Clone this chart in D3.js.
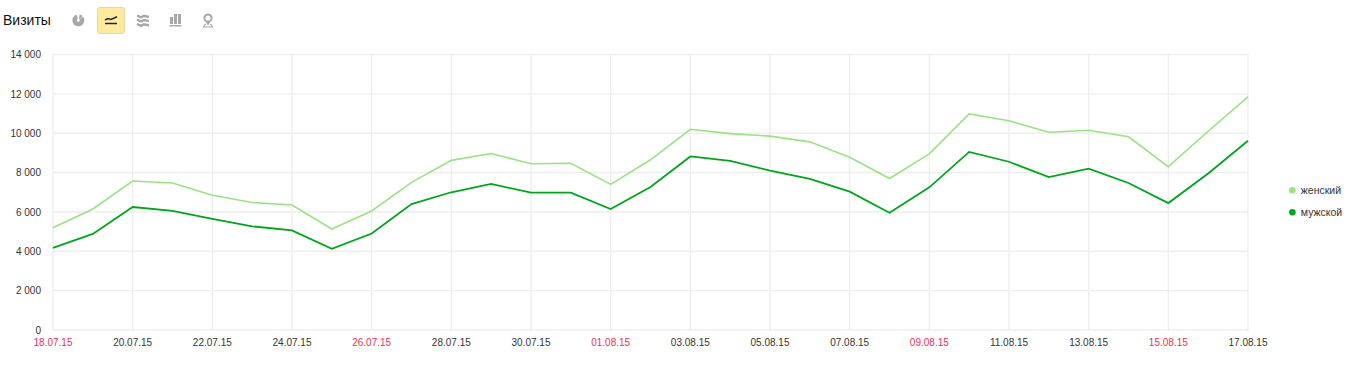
<!DOCTYPE html>
<html>
<head>
<meta charset="utf-8">
<script src="https://cdn.jsdelivr.net/npm/d3@7"></script>
<style>
  html, body { margin: 0; padding: 0; background: #fff; }
  svg { display: block; font-family: "Liberation Sans", Arial, sans-serif; }
</style>
</head>
<body>
<div id="chart"></div>
<script>
const dates = [
  "18.07.15", "19.07.15", "20.07.15", "21.07.15", "22.07.15", "23.07.15", "24.07.15", "25.07.15",
  "26.07.15", "27.07.15", "28.07.15", "29.07.15", "30.07.15", "31.07.15", "01.08.15", "02.08.15",
  "03.08.15", "04.08.15", "05.08.15", "06.08.15", "07.08.15", "08.08.15", "09.08.15", "10.08.15",
  "11.08.15", "12.08.15", "13.08.15", "14.08.15", "15.08.15", "16.08.15", "17.08.15",
];
const female = [
  5200, 6150, 7570, 7470, 6850, 6480, 6350, 5130, 6050, 7500, 8620, 8970, 8450, 8470, 7400, 8650,
  10200, 9980, 9850, 9560, 8780, 7700, 8950, 10980, 10630, 10050, 10150, 9820, 8300, 10100, 11850,
];
const male = [
  4170, 4880, 6250, 6050, 5650, 5270, 5060, 4130, 4900, 6400, 7000, 7420, 6980, 6980, 6150, 7270,
  8820, 8600, 8100, 7680, 7030, 5960, 7250, 9050, 8550, 7770, 8200, 7470, 6450, 7950, 9620,
];
const tickDates = [
  "18.07.15", "20.07.15", "22.07.15", "24.07.15", "26.07.15", "28.07.15", "30.07.15", "01.08.15",
  "03.08.15", "05.08.15", "07.08.15", "09.08.15", "11.08.15", "13.08.15", "15.08.15", "17.08.15",
];
const redDates = ["18.07.15", "26.07.15", "01.08.15", "09.08.15", "15.08.15"];
const yTicks = [0, 2000, 4000, 6000, 8000, 10000, 12000, 14000];

const series = [
  { name: "женский", values: female, color: "#9be285", width: 1.6 },
  { name: "мужской", values: male, color: "#00a51c", width: 1.8 },
];

const svg = d3.select("#chart").append("svg").attr("width", 1350).attr("height", 379);

const x = d3.scalePoint().domain(dates).range([53, 1248]);
const y = d3.scaleLinear().domain([0, 14000]).range([330, 54.5]);
const fmt = d3.formatLocale({ thousands: " ", grouping: [3], decimal: ",", currency: ["", ""] }).format(",d");

// grid
const grid = svg.append("g").attr("stroke", "#eee").attr("stroke-width", 1.4);
grid.selectAll("line.h").data(yTicks).join("line").attr("class", "h")
  .attr("x1", 53).attr("x2", 1248)
  .attr("y1", (d) => y(d)).attr("y2", (d) => y(d));
grid.selectAll("line.v").data(tickDates).join("line").attr("class", "v")
  .attr("x1", (d) => x(d)).attr("x2", (d) => x(d))
  .attr("y1", y(14000)).attr("y2", y(0));

// axis labels
svg.append("g").selectAll("text").data(yTicks).join("text")
  .attr("x", 41).attr("y", (d) => y(d) + 3.8)
  .attr("text-anchor", "end").attr("font-size", 10).attr("fill", "#333")
  .text((d) => fmt(d));
svg.append("g").selectAll("text").data(tickDates).join("text")
  .attr("x", (d) => x(d)).attr("y", 345.5)
  .attr("text-anchor", "middle").attr("font-size", 10)
  .attr("fill", (d) => (redDates.includes(d) ? "#f0304c" : "#333"))
  .text((d) => d);

// lines
const line = d3.line().x((d, i) => x(dates[i])).y((d) => y(d));
svg.append("g").selectAll("path").data(series).join("path")
  .attr("d", (d) => line(d.values))
  .attr("fill", "none")
  .attr("stroke", (d) => d.color)
  .attr("stroke-width", (d) => d.width);

// legend
const legend = svg.append("g").selectAll("g").data(series).join("g")
  .attr("transform", (d, i) => `translate(1292.4, ${190.3 + i * 22})`);
legend.append("circle").attr("r", 3.3).attr("fill", (d) => d.color);
legend.append("text").attr("x", 8.4).attr("y", 3.6)
  .attr("font-size", 10.5).attr("fill", "#333").text((d) => d.name);

// title and toolbar
svg.append("text").attr("x", 3).attr("y", 25).attr("font-size", 14).attr("fill", "#111").text("Визиты");

svg.append("rect").attr("x", 97.5).attr("y", 7.5).attr("width", 27).attr("height", 26).attr("rx", 2.5)
  .attr("fill", "#ffeba0").attr("stroke", "#f0d68c");

const iconColor = "#a8a8a8";
const icons = svg.append("g");

// pie icon
const arc = d3.arc();
icons.append("path").attr("transform", "translate(78.3, 20.3)")
  .attr("d", arc({ innerRadius: 1.5, outerRadius: 6, startAngle: 0.9, endAngle: 6.0 }))
  .attr("fill", iconColor);
icons.append("path").attr("transform", "translate(79, 19.5)")
  .attr("d", arc({ innerRadius: 0, outerRadius: 5, startAngle: 0.1, endAngle: 0.8 }))
  .attr("fill", iconColor);

// line icon
const iconLine = d3.line().curve(d3.curveLinear);
icons.append("path")
  .attr("d", iconLine([[105, 20], [108, 18.5], [111, 19.5], [117, 16.8]]))
  .attr("fill", "none").attr("stroke", "#222").attr("stroke-width", 1.5);
icons.append("path").attr("d", "M105 23.5H117").attr("stroke", "#222").attr("stroke-width", 1.5);

// area icon
[15.5, 19.7, 24].forEach((t) => {
  icons.append("path")
    .attr("d", iconLine([[137, t], [141, t + 1.8], [144, t + 0.3], [149, t + 1.5]]))
    .attr("fill", "none").attr("stroke", iconColor).attr("stroke-width", 2.4);
});

// bars icon
[[170, 17, 7], [174, 14, 10], [178, 14, 10]].forEach(([bx, by, bh]) => {
  icons.append("rect").attr("x", bx).attr("y", by).attr("width", 3).attr("height", bh).attr("fill", iconColor);
});
icons.append("rect").attr("x", 169.5).attr("y", 25).attr("width", 12).attr("height", 1.5).attr("fill", iconColor);

// map pin icon
icons.append("circle").attr("cx", 208).attr("cy", 18).attr("r", 3.6)
  .attr("fill", "none").attr("stroke", iconColor).attr("stroke-width", 2);
icons.append("path").attr("d", "M208 25.5L205.5 21.5H210.5Z").attr("fill", iconColor);
icons.append("path").attr("d", "M203 27.5L205.5 24M213 27.5L210.5 24M204 27H212")
  .attr("fill", "none").attr("stroke", iconColor).attr("stroke-width", 1.2);
</script>
</body>
</html>
